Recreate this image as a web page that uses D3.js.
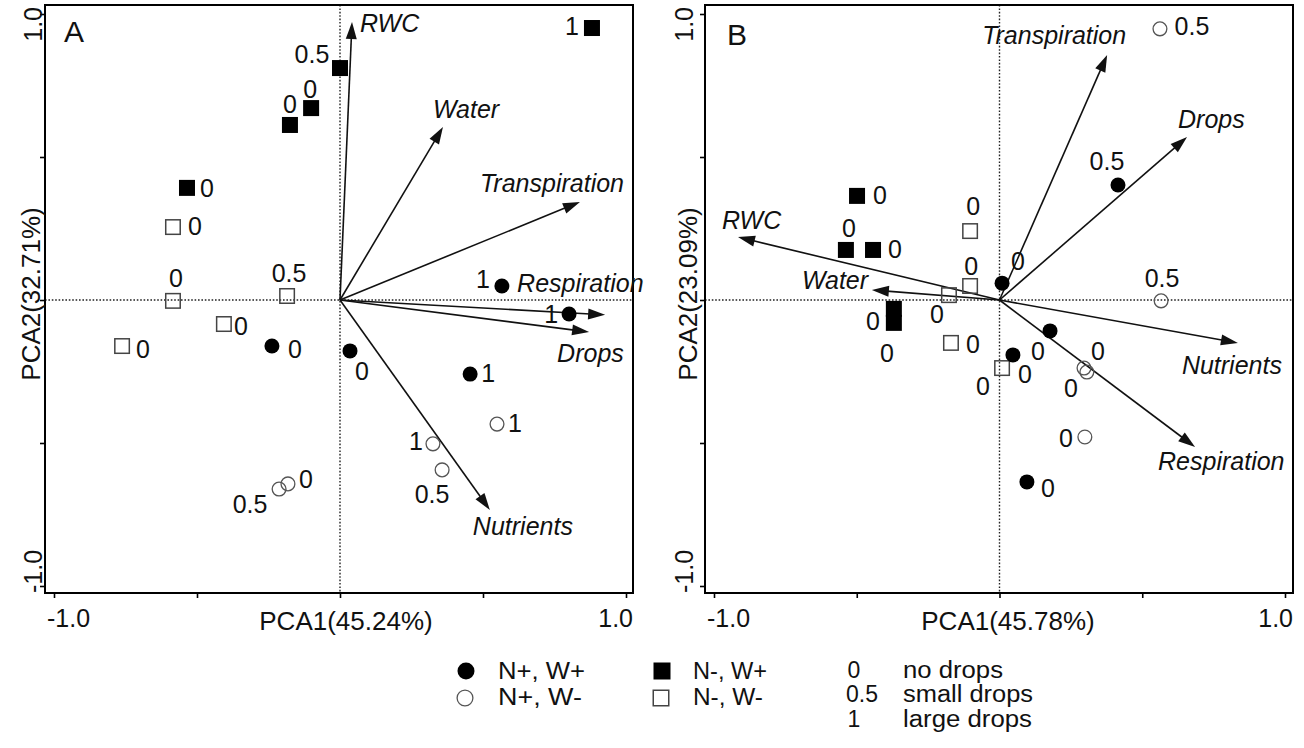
<!DOCTYPE html>
<html><head><meta charset="utf-8">
<script src="https://cdn.jsdelivr.net/npm/d3@7"></script>
<style>
body{margin:0;background:#fff}
text{font-family:"Liberation Sans",Arial,Helvetica,sans-serif;fill:#111}
</style>
</head><body>
<svg id="c" width="1304" height="748"></svg>
<script>
// ---------------- DATA ----------------
const tickValues = [-1, -0.5, 0, 0.5, 1];
const tickLabels = ["-1.0", "1.0"];

// Panel A (PCA1 45.24%, PCA2 32.71%)
const axisTitlesA = ["PCA1(45.24%)", "PCA2(32.71%)"];
const groupA = ["N-, W+","N-, W+","N-, W+","N-, W+","N-, W+",
                "N-, W-","N-, W-","N-, W-","N-, W-","N-, W-",
                "N+, W+","N+, W+","N+, W+","N+, W+","N+, W+",
                "N+, W-","N+, W-","N+, W-","N+, W-","N+, W-"];
const pc1A = [0.881, 0.000, -0.101, -0.175, -0.535,
              -0.584, -0.584, -0.185, -0.406, -0.762,
              -0.238, 0.035, 0.566, 0.801, 0.455,
              0.549, 0.325, 0.357, -0.213, -0.182];
const pc2A = [0.951, 0.811, 0.671, 0.612, 0.392,
              0.255, -0.003, 0.014, -0.084, -0.161,
              -0.161, -0.178, 0.049, -0.049, -0.259,
              -0.434, -0.503, -0.594, -0.661, -0.643];
const dropA = ["1","0.5","0","0","0",
               "0","0","0.5","0","0",
               "0","0","1","1","1",
               "1","1","0.5","0.5","0"];
const varNamesA = ["RWC","Water","Transpiration","Respiration","Drops","Nutrients"];
const load1A = [0.042, 0.360, 0.839, 0.927, 0.871, 0.524];
const load2A = [0.972, 0.605, 0.343, -0.052, -0.112, -0.734];

// Panel B (PCA1 45.78%, PCA2 23.09%)
const axisTitlesB = ["PCA1(45.78%)", "PCA2(23.09%)"];
const groupB = ["N-, W+","N-, W+","N-, W+","N-, W+","N-, W+",
                "N-, W-","N-, W-","N-, W-","N-, W-","N-, W-",
                "N+, W+","N+, W+","N+, W+","N+, W+","N+, W+",
                "N+, W-","N+, W-","N+, W-","N+, W-","N+, W-"];
const pc1B = [-0.499, -0.538, -0.443, -0.370, -0.370,
              -0.103, -0.103, -0.177, -0.170, 0.009,
              0.009, 0.415, 0.177, 0.047, 0.096,
              0.562, 0.566, 0.296, 0.306, 0.299];
const pc2B = [0.364, 0.175, 0.175, -0.031, -0.080,
              0.241, 0.049, 0.017, -0.150, -0.238,
              0.059, 0.402, -0.108, -0.192, -0.636,
              0.948, -0.003, -0.238, -0.252, -0.479];
const dropB = ["0","0","0","0","0",
               "0","0","0","0","0",
               "0","0.5","0","0","0",
               "0.5","0.5","0","0","0"];
const varNamesB = ["RWC","Water","Transpiration","Drops","Nutrients","Respiration"];
const load1B = [-0.916, -0.447, 0.377, 0.657, 0.835, 0.685];
const load2B = [0.220, 0.035, 0.857, 0.570, -0.150, -0.514];

// Legend
const legendGroups = ["N+, W+","N+, W-","N-, W+","N-, W-"];
const dropCodes = ["0","0.5","1"];
const dropNames = ["no drops","small drops","large drops"];

// ---------------- LAYOUT (pixel offsets of labels) ----------------
const ptLabelOffA = [[-20,7],[-28,-5],[-1,-10],[0,-12],[20,9],
                     [22,8],[3,-14],[2,-14],[17,11],[21,12],
                     [23,12],[12,29],[-19,2],[-18,9],[18,8],
                     [18,8],[-17,6],[-10,33],[-29,24],[18,4]];
const ptLabelOffB = [[23,8],[3,-13],[22,8],[-21,21],[-7,39],
                     [3,-16],[1,-11],[-12,28],[22,10],[-19,27],
                     [16,-13],[-11,-15],[-12,29],[12,28],[21,15],
                     [32,6],[1,-14],[14,-8],[-16,25],[-19,10]];
const vecLabelOffA = [[8,10],[-10,-9],[-100,-10],[-88,-23],[-32,30],[-17,25]];
const vecLabelOffB = [[-16,-8],[-70,-1],[-125,-11],[-9,-9],[-56,31],[-37,23]];

// ---------------- DRAW ----------------
const svg = d3.select("#c");
const FY0 = 5, FY1 = 593;

const style = {
  "N+, W+": {shape:"circle", fill:"#000", stroke:"#000"},
  "N+, W-": {shape:"circle", fill:"none", stroke:"#555"},
  "N-, W+": {shape:"square", fill:"#000", stroke:"#000"},
  "N-, W-": {shape:"square", fill:"none", stroke:"#444"}
};

function drawMarker(g, cx, cy, grp, r, s) {
  const st = style[grp];
  if (st.shape === "circle") {
    g.append("circle").attr("cx",cx).attr("cy",cy).attr("r", st.fill==="none"? r-0.6 : r)
      .attr("fill",st.fill).attr("stroke",st.stroke).attr("stroke-width", st.fill==="none"?1.3:0);
  } else {
    const h = st.fill==="none" ? s-1.5 : s;
    g.append("rect").attr("x",cx-h/2).attr("y",cy-h/2).attr("width",h).attr("height",h)
      .attr("fill",st.fill).attr("stroke",st.stroke).attr("stroke-width", st.fill==="none"?1.5:0);
  }
}

function panel(cfg) {
  const x = d3.scaleLinear().domain([-1,1]).range(cfg.xr);
  const y = d3.scaleLinear().domain([-1,1]).range([586,14]);
  const [fx0, fx1] = cfg.frame;
  const g = svg.append("g");

  // dotted zero lines
  g.append("line").attr("x1",fx0).attr("x2",fx1).attr("y1",y(0)).attr("y2",y(0))
    .attr("stroke","#222").attr("stroke-width",1.4).attr("stroke-dasharray","1.6,1.8");
  g.append("line").attr("x1",x(0)).attr("x2",x(0)).attr("y1",FY0).attr("y2",FY1)
    .attr("stroke","#222").attr("stroke-width",1.4).attr("stroke-dasharray","1.6,1.8");

  // axes ticks
  const ax = g.append("g").attr("transform",`translate(0,${FY1})`)
    .call(d3.axisBottom(x).tickValues(tickValues).tickSize(5).tickFormat(""));
  ax.select(".domain").remove();
  ax.selectAll("line").attr("stroke","#000").attr("stroke-width",1.6);
  const ay = g.append("g").attr("transform",`translate(${fx0},0)`)
    .call(d3.axisLeft(y).tickValues(tickValues).tickSize(5).tickFormat(""));
  ay.select(".domain").remove();
  ay.selectAll("line").attr("stroke","#000").attr("stroke-width",1.6);

  // frame
  g.append("rect").attr("x",fx0).attr("y",FY0).attr("width",fx1-fx0).attr("height",FY1-FY0)
    .attr("fill","none").attr("stroke","#000").attr("stroke-width",2);

  // tick labels
  g.append("text").attr("x",fx0+2).attr("y",627).attr("font-size",25).text(tickLabels[0]);
  g.append("text").attr("x",fx1).attr("y",627).attr("font-size",25).attr("text-anchor","end").text(tickLabels[1]);
  const tlx = cfg.ylabX;
  g.append("text").attr("transform",`translate(${tlx},${FY0+2}) rotate(-90)`).attr("font-size",25)
    .attr("text-anchor","end").text(tickLabels[1]);
  g.append("text").attr("transform",`translate(${tlx},${FY1}) rotate(-90)`).attr("font-size",25)
    .attr("text-anchor","start").text(tickLabels[0]);

  // axis titles
  g.append("text").attr("x",cfg.xTitleX).attr("y",630).attr("font-size",26)
    .attr("text-anchor","middle").text(cfg.titles[0]);
  g.append("text").attr("transform",`translate(${cfg.yTitleX},${294}) rotate(-90)`).attr("font-size",26)
    .attr("text-anchor","middle").text(cfg.titles[1]);

  // panel letter
  g.append("text").attr("x",cfg.letterX).attr("y",cfg.letterY).attr("font-size",30)
    .text(cfg.letter);

  // loading arrows
  const ox = x(0), oy = y(0);
  cfg.names.forEach((nm,i) => {
    const tx = x(cfg.l1[i]), ty = y(cfg.l2[i]);
    const dx = tx-ox, dy = ty-oy, L = Math.hypot(dx,dy);
    const ux = dx/L, uy = dy/L, hl = 17, hw = 5.5;
    const bx = tx - ux*hl, by = ty - uy*hl;
    g.append("line").attr("x1",ox).attr("y1",oy).attr("x2",bx+ux*2).attr("y2",by+uy*2)
      .attr("stroke","#111").attr("stroke-width",1.6);
    g.append("path").attr("d",`M${tx},${ty}L${bx-uy*hw},${by+ux*hw}L${bx+uy*hw},${by-ux*hw}Z`)
      .attr("fill","#111");
    const off = cfg.vecOff[i];
    g.append("text").attr("x",tx+off[0]).attr("y",ty+off[1]).attr("font-size",25)
      .attr("font-style","italic").text(nm);
  });

  // points
  cfg.p1.forEach((v,i) => {
    drawMarker(g, x(v), y(cfg.p2[i]), cfg.grp[i], 7.5, 16);
  });
  cfg.p1.forEach((v,i) => {
    const off = cfg.ptOff[i];
    g.append("text").attr("x",x(v)+off[0]).attr("y",y(cfg.p2[i])+off[1]).attr("font-size",25)
      .attr("text-anchor","middle").text(cfg.drop[i]);
  });
}

panel({xr:[54,626], frame:[45,633], ylabX:42, yTitleX:40, xTitleX:346,
  titles:axisTitlesA, letter:"A", letterX:64, letterY:42,
  names:varNamesA, l1:load1A, l2:load2A, vecOff:vecLabelOffA,
  p1:pc1A, p2:pc2A, grp:groupA, drop:dropA, ptOff:ptLabelOffA});

panel({xr:[714,1285], frame:[705,1293], ylabX:693, yTitleX:697, xTitleX:1008,
  titles:axisTitlesB, letter:"B", letterX:727, letterY:45,
  names:varNamesB, l1:load1B, l2:load2B, vecOff:vecLabelOffB,
  p1:pc1B, p2:pc2B, grp:groupB, drop:dropB, ptOff:ptLabelOffB});

// ---------------- LEGEND ----------------
const lg = svg.append("g");
const legPos = [[466,671,498,679,87],[465,698,498,705,84],[662,671,693,679,74],[661,698,693,705,70]];
legendGroups.forEach((grp,i) => {
  const p = legPos[i];
  drawMarker(lg, p[0], p[1], grp, 8.5, 17);
  lg.append("text").attr("x",p[2]).attr("y",p[3]).attr("font-size",24)
    .attr("textLength",p[4]).attr("lengthAdjust","spacingAndGlyphs").text(grp);
});
const dropPos = [[854,678,13],[862,702,35],[854,727,12]];
const namePos = [[903,678,100],[903,702,130],[903,727,129]];
dropCodes.forEach((c,i) => {
  lg.append("text").attr("x",dropPos[i][0]).attr("y",dropPos[i][1]).attr("font-size",23)
    .attr("text-anchor","middle").text(c);
  lg.append("text").attr("x",namePos[i][0]).attr("y",namePos[i][1]).attr("font-size",23)
    .attr("textLength",namePos[i][2]).attr("lengthAdjust","spacingAndGlyphs").text(dropNames[i]);
});
</script>
</body></html>
